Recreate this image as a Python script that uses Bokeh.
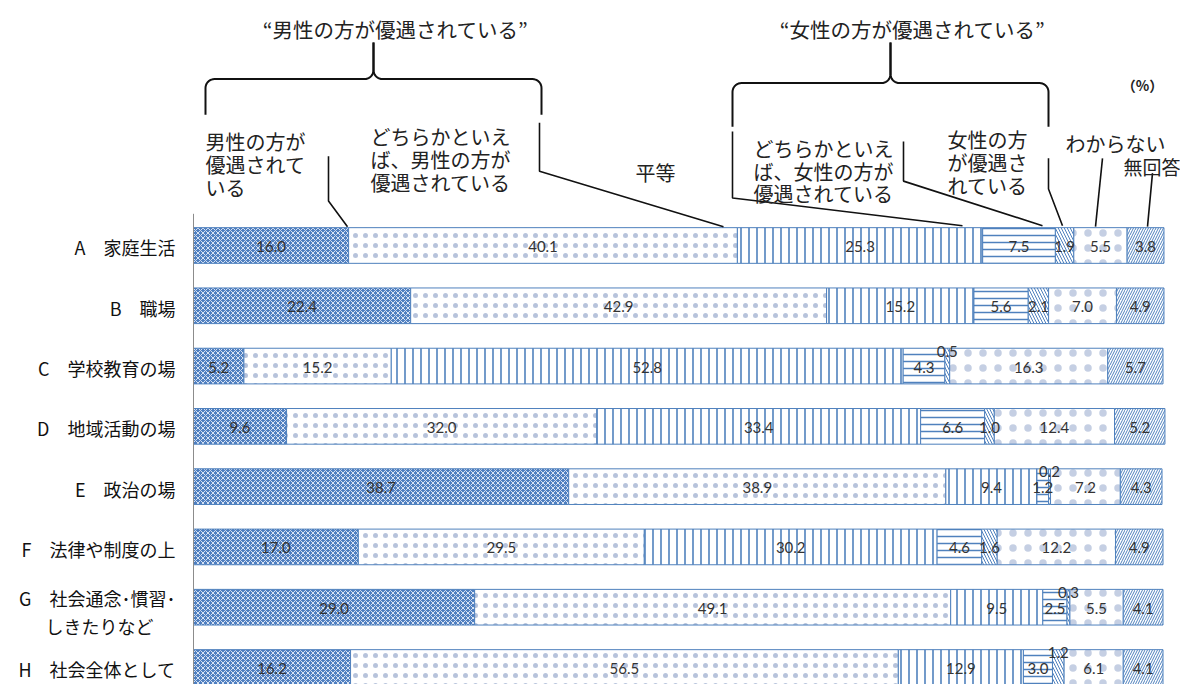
from bokeh.plotting import figure
from bokeh.models import Range1d, ColumnDataSource
from bokeh.embed import file_html
from bokeh.resources import INLINE
from bokeh.core.properties import value
import numpy as np

# ---------------- data ----------------
categories = ["A　家庭生活", "B　職場", "C　学校教育の場", "D　地域活動の場",
              "E　政治の場", "F　法律や制度の上", "G　社会通念･慣習･\nしきたりなど",
              "H　社会全体として"]
series_names = ["男性の方が優遇されている", "どちらかといえば、男性の方が優遇されている",
                "平等", "どちらかといえば、女性の方が優遇されている",
                "女性の方が優遇されている", "わからない", "無回答"]
male = [16.0, 22.4, 5.2, 9.6, 38.7, 17.0, 29.0, 16.2]
rather_male = [40.1, 42.9, 15.2, 32.0, 38.9, 29.5, 49.1, 56.5]
equal = [25.3, 15.2, 52.8, 33.4, 9.4, 30.2, 9.5, 12.9]
rather_female = [7.5, 5.6, 4.3, 6.6, 1.2, 4.6, 2.5, 3.0]
female = [1.9, 2.1, 0.5, 1.0, 0.2, 1.6, 0.3, 1.2]
dont_know = [5.5, 7.0, 16.3, 12.4, 7.2, 12.2, 5.5, 6.1]
no_answer = [3.8, 4.9, 5.7, 5.2, 4.3, 4.9, 4.1, 4.1]
series = [male, rather_male, equal, rather_female, female, dont_know, no_answer]
# value labels drawn above the bar: (row, series)
labels_above = [(2, 4), (4, 4), (6, 4), (7, 4)]

# ---------------- styles ----------------
BLUE = "#4f81bd"
styles = [
    dict(fill_color="#4f7fc0", hatch_pattern="x", hatch_color="#d9e3f3", hatch_scale=5, hatch_weight=1),
    dict(fill_color="white", hatch_pattern=".", hatch_color="#6f88b8", hatch_scale=10, hatch_weight=0.5, hatch_alpha=0.5),
    dict(fill_color="white", hatch_pattern="|", hatch_color=BLUE, hatch_scale=8, hatch_weight=1.6),
    dict(fill_color="white", hatch_pattern="-", hatch_color=BLUE, hatch_scale=7, hatch_weight=1.5),
    dict(fill_color="white", hatch_pattern="\\", hatch_color=BLUE, hatch_scale=6, hatch_weight=1),
    dict(fill_color="white", hatch_pattern=".", hatch_color="#6f88b8", hatch_scale=15, hatch_weight=0.5, hatch_alpha=0.4),
    dict(fill_color="white", hatch_pattern="/", hatch_color=BLUE, hatch_scale=5, hatch_weight=1),
]

# ---------------- geometry (reference px -> data) ----------------
KX = (1162.5 - 193.0) / 100.0
PY = 60.86
def X(px):
    return (px - 193.0) / KX
def Y(py):
    return (py - 250.0) / PY

W, H = 1180, 684
ROW0, ROW7 = 245.0, 667.0          # picture y of first and last bar centres
pitch = (ROW7 - ROW0) / 7.0
p = figure(width=W, height=H, output_backend="svg", toolbar_location=None,
           x_range=Range1d(X(0), X(W)),
           y_range=Range1d((H - ROW0) / pitch, -ROW0 / pitch),
           x_axis_location=None, y_axis_location=None, min_border=0,
           background_fill_color="white", border_fill_color="white")
p.grid.visible = False
p.outline_line_color = None

rows = list(range(len(categories)))
bar_h = 36.0 / PY

left = np.zeros(len(rows))
in_x, in_y, in_t = [], [], []
ab_x, ab_y, ab_t = [], [], []
for si, vals in enumerate(series):
    v = np.array(vals)
    src = ColumnDataSource(dict(y=rows, left=left, right=left + v))
    p.hbar(y="y", left="left", right="right", height=bar_h, source=src,
           line_color=BLUE, line_width=1, **styles[si])
    for r in rows:
        cx = left[r] + v[r] / 2
        if (r, si) in labels_above:
            ab_x.append(cx); ab_y.append(r - bar_h / 2 + 3 / PY); ab_t.append(f"{v[r]:.1f}")
        else:
            in_x.append(cx); in_y.append(r + 1 / PY); in_t.append(f"{v[r]:.1f}")
    left = left + v

NUMFONT = value("Lato")
p.text(x=in_x, y=in_y, text=in_t, text_align="center", text_baseline="middle",
       text_font=NUMFONT, text_font_size="15px", text_color="#333333")
p.text(x=ab_x, y=ab_y, text=ab_t, text_align="center", text_baseline="alphabetic",
       text_font=NUMFONT, text_font_size="15px", text_color="#333333")

# left axis line
p.segment(x0=[0], y0=[Y(218)], x1=[0], y1=[Y(720)], line_color="#8c8c8c", line_width=1)

# category labels
JP = value("Noto Sans CJK JP")
c1x, c1y, c1t, c2x, c2y, c2t = [], [], [], [], [], []
for r, c in enumerate(categories):
    parts = c.split("\n")
    if len(parts) == 1:
        c1x.append(X(175)); c1y.append(r + 2 / PY); c1t.append(parts[0])
    else:
        c1x.append(X(175)); c1y.append(r - 9 / PY); c1t.append(parts[0])
        c2x.append(X(45)); c2y.append(r + 19 / PY); c2t.append(parts[1])
p.text(x=c1x, y=c1y, text=c1t, text_align="right", text_baseline="middle",
       text_font=JP, text_font_size="18px", text_color="#111111")
p.text(x=c2x, y=c2y, text=c2t, text_align="left", text_baseline="middle",
       text_font=JP, text_font_size="18px", text_color="#111111")

# ---------------- header annotations ----------------
def arc(cx, cy, r, a0, a1, n=10):
    t = np.linspace(np.radians(a0), np.radians(a1), n)
    return list(cx + r * np.cos(t)), list(cy + r * np.sin(t))

def brace(xl, xr, xs, yh, ytop, ybot, r=9):
    ax, ay = [xl], [ybot]
    x1, y1 = arc(xl + r, yh + r, r, 180, 270); ax += x1; ay += y1
    x1, y1 = arc(xs - r, yh - r, r, 90, 0); ax += x1; ay += y1
    ax.append(xs); ay.append(ytop)
    bx, by = [xs], [ytop]
    x1, y1 = arc(xs + r, yh - r, r, 180, 90); bx += x1; by += y1
    x1, y1 = arc(xr - r, yh + r, r, 270, 360); bx += x1; by += y1
    bx.append(xr); by.append(ybot)
    return [[X(a) for a in ax], [X(b) for b in bx]], [[Y(a) for a in ay], [Y(b) for b in by]]

bxs, bys = [], []
for args in [(205, 541, 373, 82, 45, 118), (732, 1048, 890, 86, 45, 130)]:
    xs, ys = brace(*args)
    bxs += xs; bys += ys
p.multi_line(xs=bxs, ys=bys, line_color="#111111", line_width=2)

leaders = [
    [(328, 160), (328, 205), (347, 231)],
    [(539, 126), (539, 175), (723, 231)],
    [(732, 135), (732, 202), (962, 230)],
    [(903, 145), (903, 185), (1042, 230)],
    [(1048, 162), (1048, 193), (1062, 230)],
    [(1102, 162), (1095, 231)],
    [(1152, 177), (1147, 231)],
]
p.multi_line(xs=[[X(a) for a, b in L] for L in leaders],
             ys=[[Y(b) for a, b in L] for L in leaders],
             line_color="#111111", line_width=1.6)

def label(lines, x, y0, dy=23, align="left", size="20px", style="normal", color="#222222"):
    p.text(x=[X(x)] * len(lines), y=[Y(y0 + i * dy) for i in range(len(lines))],
           text=lines, text_align=align, text_baseline="middle", text_font=JP,
           text_font_size=size, text_font_style=style, text_color=color)

label(["“男性の方が優遇されている”"], 395, 31, align="center", size="20.5px")
label(["“女性の方が優遇されている”"], 912, 31, align="center", size="20.5px")
label(["男性の方が", "優遇されて", "いる"], 205, 145)
label(["どちらかといえ", "ば、男性の方が", "優遇されている"], 370, 140)
label(["平等"], 655, 176, align="center")
label(["どちらかといえ", "ば、女性の方が", "優遇されている"], 753, 152)
label(["女性の方", "が優遇さ", "れている"], 947, 143)
label(["わからない"], 1065, 147)
label(["無回答"], 1123, 170, size="19px")
label(["（%）"], 1142, 88, align="center", size="14px", style="bold")

open("out.html", "w").write(file_html(p, INLINE))
